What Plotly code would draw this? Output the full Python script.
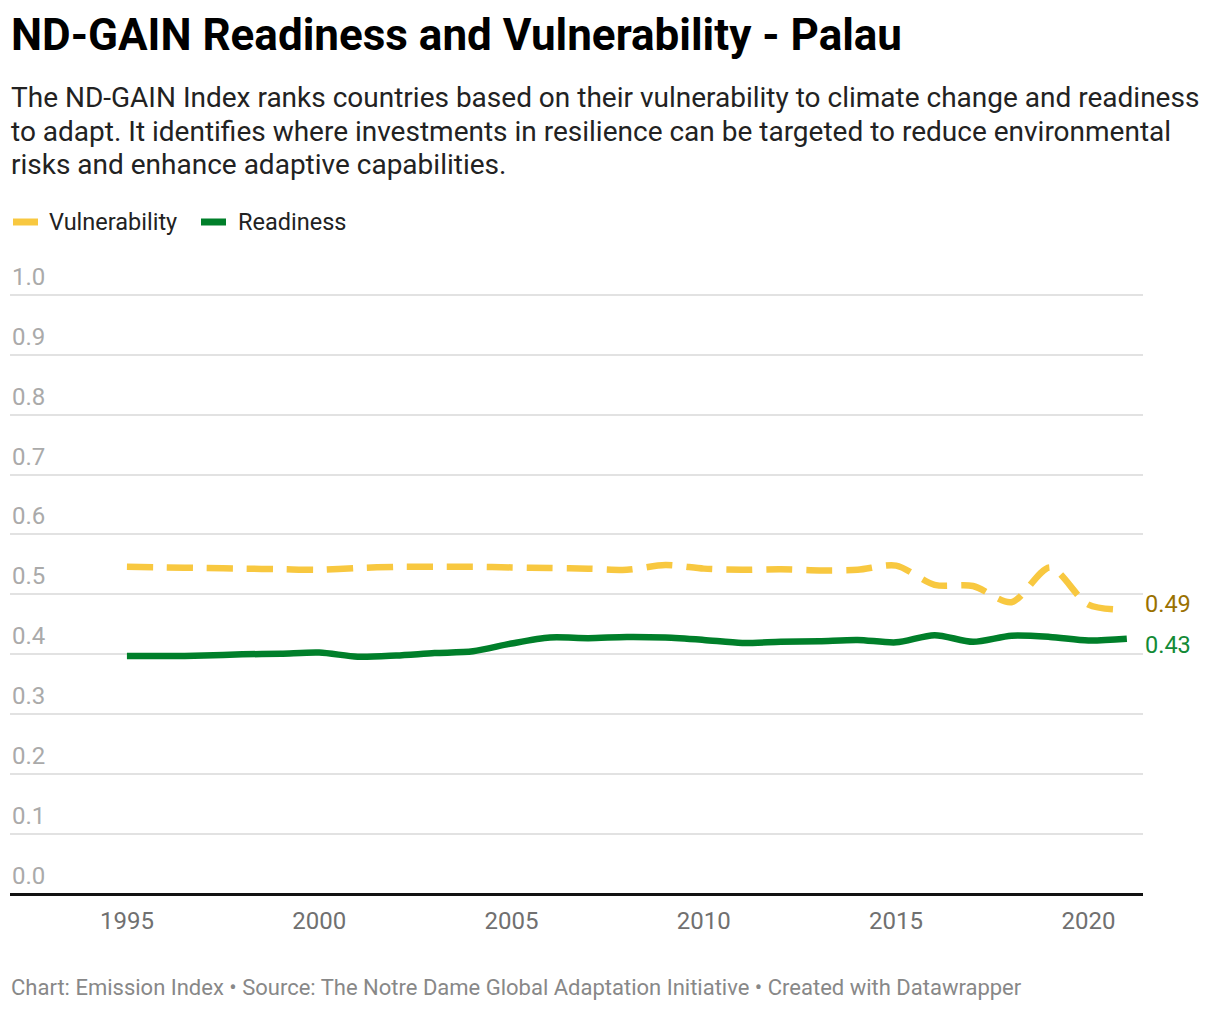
import plotly.graph_objects as go

years = list(range(1995, 2022))
vulnerability = [0.546, 0.545, 0.544, 0.543, 0.542, 0.541, 0.544, 0.546, 0.546, 0.546,
                 0.545, 0.544, 0.543, 0.541, 0.549, 0.543, 0.541, 0.542, 0.540, 0.541,
                 0.548, 0.516, 0.514, 0.487, 0.545, 0.483, 0.474]
readiness = [0.397, 0.397, 0.398, 0.400, 0.401, 0.403, 0.396, 0.398, 0.402, 0.405,
             0.418, 0.428, 0.427, 0.429, 0.428, 0.424, 0.419, 0.421, 0.422, 0.424,
             0.420, 0.432, 0.421, 0.431, 0.429, 0.423, 0.426]
series_names = ["Vulnerability", "Readiness"]
end_labels = ["0.49", "0.43"]
y_ticks = [0.0, 0.1, 0.2, 0.3, 0.4, 0.5, 0.6, 0.7, 0.8, 0.9, 1.0]
x_ticks = [1995, 2000, 2005, 2010, 2015, 2020]

title = "ND-GAIN Readiness and Vulnerability - Palau"
subtitle_lines = [
    "The ND-GAIN Index ranks countries based on their vulnerability to climate change and readiness",
    "to adapt. It identifies where investments in resilience can be targeted to reduce environmental",
    "risks and enhance adaptive capabilities.",
]
footer = "Chart: Emission Index \u2022 Source: The Notre Dame Global Adaptation Initiative \u2022 Created with Datawrapper"

YELLOW = "#f8c840"
GREEN = "#007f2a"
FONT = "Roboto"

OFF = 8  # page body margin
W, H = 1220 - OFF, 1010 - OFF
L, R, T, B = 10 - OFF, W - (1143 - OFF), 293 - OFF, H - (894 - OFF)
plot_h = H - T - B
plot_w = W - L - R


def py(ypx):
    return (H - B - (ypx - OFF)) / plot_h


def px_x(xpx):
    return ((xpx - OFF) - L) / plot_w


fig = go.Figure()
fig.add_trace(go.Scatter(
    x=years, y=vulnerability, mode="lines", name=series_names[0],
    line=dict(color=YELLOW, width=6.5, dash="26px,14px", shape="spline", smoothing=0.8),
    hoverinfo="skip", showlegend=False,
))
fig.add_trace(go.Scatter(
    x=years, y=readiness, mode="lines", name=series_names[1],
    line=dict(color=GREEN, width=6.5, shape="spline", smoothing=0.8),
    hoverinfo="skip", showlegend=False,
))

annotations = []
annotations.append(dict(text="<b>" + title + "</b>", x=px_x(9), y=py(35), xref="paper", yref="paper",
                        xanchor="left", yanchor="middle", showarrow=False,
                        font=dict(family=FONT, size=44, color="#000000")))
for i, line in enumerate(subtitle_lines):
    annotations.append(dict(text=line, x=px_x(9), y=py(97 + 34 * i), xref="paper", yref="paper",
                            xanchor="left", yanchor="middle", showarrow=False,
                            font=dict(family=FONT, size=28, color="#222222")))
legend_items = [(series_names[0], YELLOW, 10, 47), (series_names[1], GREEN, 198, 236)]
shapes = []
for name, col, sx, tx in legend_items:
    shapes.append(dict(type="line", xref="paper", yref="paper",
                       x0=px_x(sx + 3), x1=px_x(sx + 28), y0=py(222), y1=py(222),
                       line=dict(color=col, width=7)))
    annotations.append(dict(text=name, x=px_x(tx), y=py(222), xref="paper", yref="paper",
                            xanchor="left", yanchor="middle", showarrow=False,
                            font=dict(family=FONT, size=23.5, color="#222222")))
for t in y_ticks:
    annotations.append(dict(text=f"{t:.1f}", x=0, y=t, xref="paper", yref="y",
                            xanchor="left", yanchor="bottom", showarrow=False, yshift=2,
                            font=dict(family=FONT, size=24, color="#aaaaaa")))
end_vals = [vulnerability[-1], readiness[-1]]
end_cols = ["#9a7100", "#138a36"]
end_shift = [6, -6]
for lab, v, c, s in zip(end_labels, end_vals, end_cols, end_shift):
    annotations.append(dict(text=lab, x=years[-1], y=v, xref="x", yref="y", xshift=16, yshift=s,
                            xanchor="left", yanchor="middle", showarrow=False,
                            font=dict(family=FONT, size=23.5, color=c)))
annotations.append(dict(text=footer, x=px_x(9), y=py(987), xref="paper", yref="paper",
                        xanchor="left", yanchor="middle", showarrow=False,
                        font=dict(family=FONT, size=22, color="#888888")))

fig.update_layout(
    width=W, height=H,
    margin=dict(l=L, r=R, t=T, b=B, pad=0),
    paper_bgcolor="white", plot_bgcolor="white",
    annotations=annotations, shapes=shapes,
    showlegend=False,
    xaxis=dict(range=[1991.96, 2021.42], tickvals=x_ticks, ticktext=[str(x) for x in x_ticks],
               showgrid=False, zeroline=False, showline=False,
               ticks="outside", ticklen=5, tickcolor="rgba(0,0,0,0)",
               tickfont=dict(family=FONT, size=24, color="#707070")),
    yaxis=dict(range=[0, 1.003], tickvals=y_ticks, showticklabels=False,
               showgrid=True, gridcolor="#e2e2e2", gridwidth=1.5,
               zeroline=True, zerolinecolor="#111111", zerolinewidth=2.5,
               showline=False),
)

fig.write_html("out.html")
